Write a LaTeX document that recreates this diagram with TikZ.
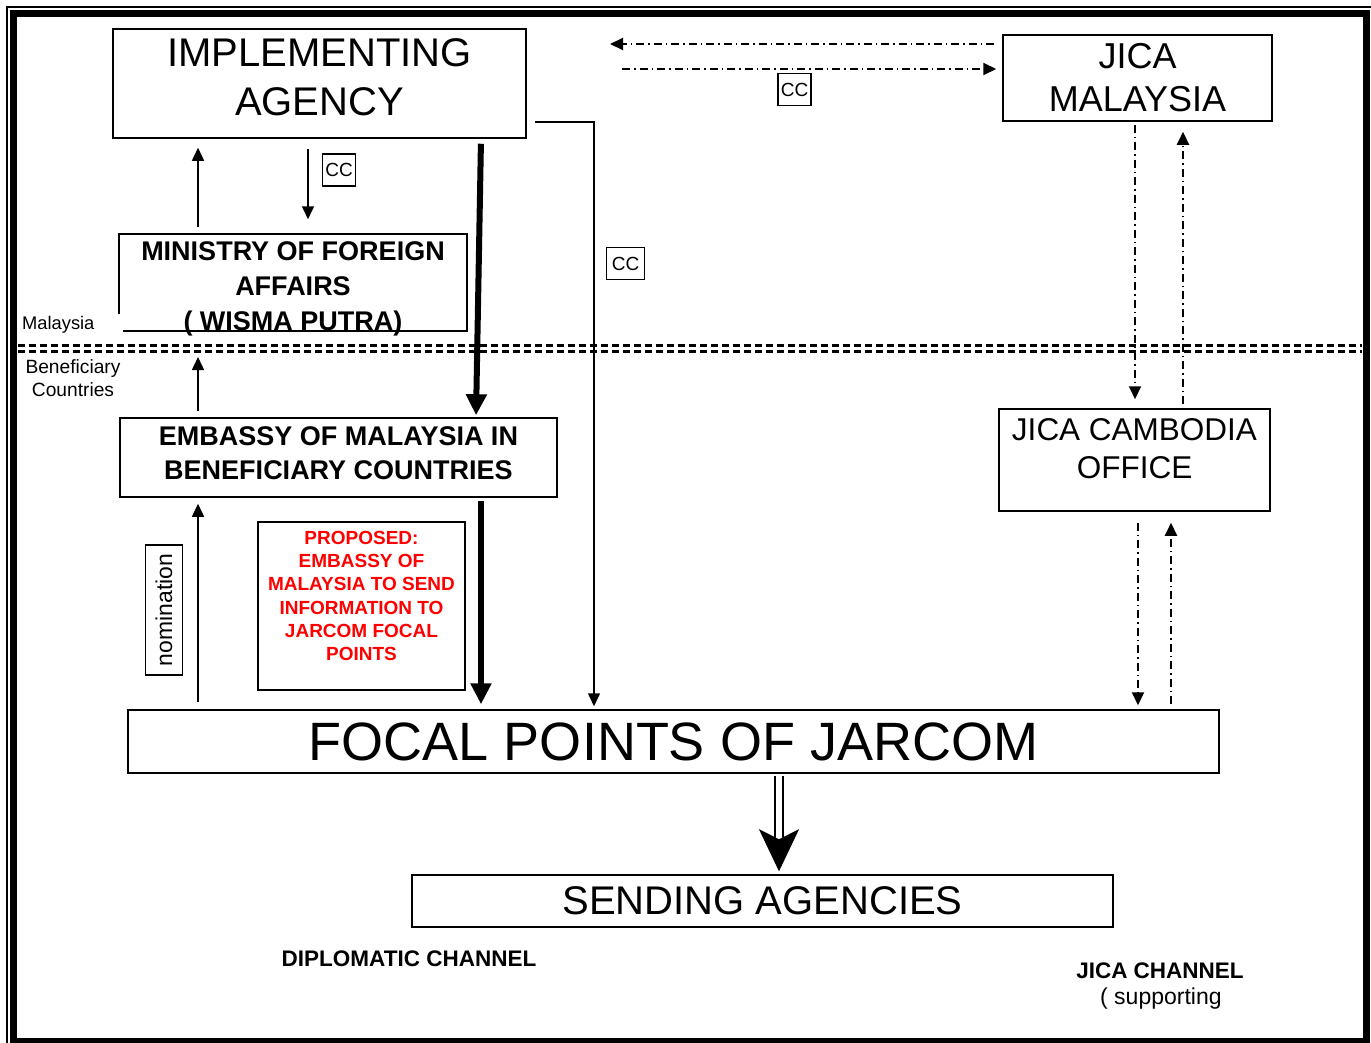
\documentclass[tikz,border=0pt]{standalone}
\usepackage{fontspec}
\setmainfont{Liberation Sans}
\usetikzlibrary{arrows.meta,calc}

\begin{document}
\begin{tikzpicture}[x=1pt,y=-1pt,
            box/.style={draw,line width=1.5pt,align=center,inner sep=0pt},
            tag/.style={draw,line width=1.2pt,inner sep=0pt,minimum width=33pt,minimum height=32pt,font=\fontsize{19}{21}\selectfont},
            arr/.style={line width=1.5pt,-{Triangle[length=13pt,width=12pt]}},
            fat/.style={line width=6pt,-{Triangle[length=21pt,width=20pt]}},
            dd/.style={line width=2pt,dash pattern=on 8pt off 4pt on 1.5pt off 4pt,-{Triangle[length=13pt,width=12pt]}},
            sep/.style={line width=3pt,dash pattern=on 7pt off 4pt}]
            \useasboundingbox (0,0) rectangle (1371,1042);
            \clip (0,0) rectangle (1371,1042);
            \draw[line width=1.5pt] (7,7) rectangle (1380,1050);
            \draw[line width=7pt] (13,13) rectangle (1366,1041);

            \node[box,minimum width=413,minimum height=109,text depth=12pt,font=\fontsize{40}{49}\selectfont] (ia) at (319.5,83.5) {IMPLEMENTING\\AGENCY};
            \node[box,minimum width=269,minimum height=86,font=\fontsize{36}{43}\selectfont] (jm) at (1137.5,78) {JICA\\MALAYSIA};
            \node[box,minimum width=348,minimum height=97,text depth=0pt,font=\bfseries\fontsize{27}{35}\selectfont] (mofa) at (293,282.5) {\rule{0pt}{26pt}MINISTRY OF FOREIGN\\AFFAIRS\\( WISMA PUTRA)};
            \node[box,minimum width=437,minimum height=79,text depth=9pt,font=\bfseries\fontsize{27}{34}\selectfont] (emb) at (338.5,457.5) {EMBASSY OF MALAYSIA IN\\BENEFICIARY COUNTRIES};
            \node[box,minimum width=271,minimum height=102,text depth=24pt,font=\fontsize{31.5}{38}\selectfont] (jc) at (1134.5,460) {JICA CAMBODIA\\OFFICE};
            \node[box,minimum width=207,minimum height=168,text depth=20pt,text=red,font=\bfseries\fontsize{19}{23.3}\selectfont] (prop) at (361.5,606) {PROPOSED:\\EMBASSY OF\\MALAYSIA TO SEND\\INFORMATION TO\\JARCOM FOCAL\\POINTS};
            \node[box,minimum width=1091,minimum height=63,font=\fontsize{54}{60}\selectfont] (focal) at (673.5,741.5) {FOCAL POINTS OF JARCOM};
            \node[box,minimum width=701,minimum height=52,font=\fontsize{40}{44}\selectfont] (sa) at (762.5,901) {SENDING AGENCIES};

            \node[fill=white,anchor=west,text width=99pt,minimum height=22pt,inner sep=2pt,font=\fontsize{18.3}{20}\selectfont] (my) at (20,325) {Malaysia};
            \node[align=center,font=\fontsize{19.2}{23}\selectfont] (bc) at (73,378) {Beneficiary\\Countries};
            \draw[sep] (18,345.5) -- (1362,345.5);
            \draw[sep] (18,351) -- (1362,351);

            \node[tag] (cc1) at (339,170) {CC};
            \node[tag] (cc2) at (794.5,89.5) {CC};
            \node[tag,minimum width=38pt] (cc3) at (625.5,263.5) {CC};
            \node[draw,line width=1.2pt,rotate=90,minimum width=130pt,minimum height=37pt,inner sep=0pt,font=\fontsize{22.9}{25}\selectfont] (nom) at (164,610) {nomination};

            \coordinate (ccs) at (535,122);
            \coordinate (mtop) at (198,357);
            \coordinate (jl) at (610,44);
            \coordinate (jr) at (622,69);

            \draw[arr,shorten <=6pt,shorten >=9pt] (198,0 |- mofa.north) -- (198,0 |- ia.south);
            \draw[arr,shorten <=10pt,shorten >=14pt] (308,0 |- ia.south) -- (308,0 |- mofa.north);
            \draw[arr,shorten <=6pt] (198,0 |- emb.north) -- (mtop);
            \draw[arr,shorten <=7pt,shorten >=6pt] (198,0 |- focal.north) -- (198,0 |- emb.south);
            \draw[arr,shorten >=3pt] (ccs) -| (594,0 |- focal.north);

            \draw[fat,shorten <=5pt,shorten >=2pt] (481,0 |- ia.south) -- (476,0 |- emb.north);
            \draw[fat,shorten <=3pt,shorten >=5pt] (481,0 |- emb.south) -- (481,0 |- focal.north);

            \draw[dd,shorten <=8pt] (jm.west |- jl) -- (jl);
            \draw[dd,shorten >=6pt] (jr) -- (jm.west |- jr);
            \draw[dd,shorten <=3pt,shorten >=9pt] (1135,0 |- jm.south) -- (1135,0 |- jc.north);
            \draw[dd,shorten <=4pt,shorten >=10pt] (1183,0 |- jc.north) -- (1183,0 |- jm.south);
            \draw[dd,shorten <=11pt,shorten >=4pt] (1138,0 |- jc.south) -- (1138,0 |- focal.north);
            \draw[dd,shorten <=5pt,shorten >=11pt] (1171,0 |- focal.north) -- (1171,0 |- jc.south);

            \draw[line width=2.2pt,double distance=6pt,shorten <=2pt,shorten >=30pt] (779,0 |- focal.south) -- (779,0 |- sa.north);
            \draw[white,line width=1pt,shorten >=3pt,-{Stealth[black,length=42pt,width=40pt,inset=10pt]}] (779,0 |- focal.south) -- (779,0 |- sa.north);

            \node[font=\bfseries\fontsize{22.5}{25}\selectfont] (dc) at (409,959) {DIPLOMATIC CHANNEL};
            \node[font=\bfseries\fontsize{22.5}{25}\selectfont] (jcl) at (1160,971) {JICA CHANNEL};
            \node[anchor=west,inner sep=0pt,font=\fontsize{23}{25}\selectfont] (sup) at (1100,999) {( supporting};
\end{tikzpicture}
\end{document}
